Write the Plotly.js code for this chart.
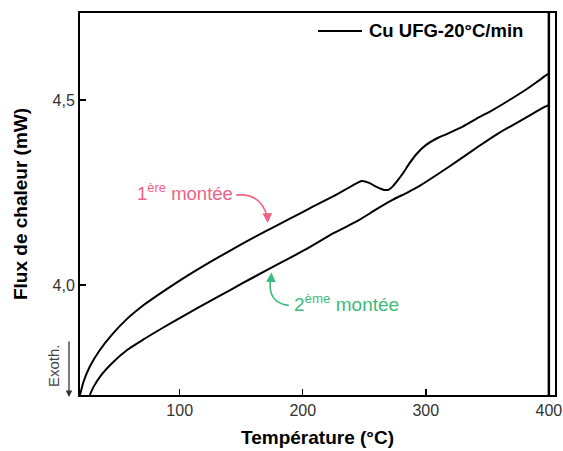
<!DOCTYPE html>
<html>
<head>
<meta charset="utf-8">
<script src="https://cdn.plot.ly/plotly-3.0.1.min.js"></script>
<style>html,body{margin:0;padding:0;background:#fff;}#chart{width:563px;height:451px;}</style>
</head>
<body>
<div id="chart"></div>
<script>
// 1st heating run (1ère montée)
var temp1 = [19, 22, 27, 35, 45, 57, 70, 81, 100, 115, 132, 150, 170, 190, 206, 225, 240, 248, 254, 260, 266, 270, 273, 277, 281, 287, 292.5, 300, 310, 317, 330, 341, 355, 368, 380, 390, 397, 400];
var flux1 = [3.703, 3.74, 3.78, 3.824, 3.866, 3.908, 3.944, 3.970, 4.012, 4.043, 4.076, 4.110, 4.146, 4.180, 4.208, 4.24, 4.268, 4.281, 4.276, 4.265, 4.257, 4.258, 4.266, 4.282, 4.30, 4.33, 4.354, 4.378, 4.398, 4.408, 4.428, 4.449, 4.474, 4.50, 4.525, 4.548, 4.565, 4.572];
// 2nd heating run (2ème montée)
var temp2 = [27, 30, 37, 45, 57, 70, 85, 100, 115, 132, 150, 170, 190, 206, 225, 246, 260, 273, 285, 295, 310, 327, 343, 359, 375, 388, 397, 400];
var flux2 = [3.703, 3.725, 3.760, 3.789, 3.824, 3.852, 3.882, 3.911, 3.939, 3.970, 4.003, 4.039, 4.074, 4.103, 4.14, 4.176, 4.205, 4.23, 4.25, 4.268, 4.30, 4.338, 4.375, 4.41, 4.44, 4.465, 4.482, 4.487];
var xTicks = [100, 200, 300, 400];
var yTicks = [4.0, 4.5];
var seriesName = 'Cu UFG-20°C/min';

var FONT = 'Liberation Sans, Arial, sans-serif';
var pink = '#ef6282';
var green = '#3dbb7a';

var traces = [
  {x: temp1, y: flux1, type: 'scatter', mode: 'lines', name: seriesName,
   line: {color: '#000', width: 2, shape: 'spline', smoothing: 0.6}},
  {x: temp2, y: flux2, type: 'scatter', mode: 'lines', name: seriesName,
   line: {color: '#000', width: 2, shape: 'spline', smoothing: 0.6}}
];

// pixel helpers for paper-positioned legend items
var L = 80, T = 13, W = 475, H = 382;
function px(x) { return (x - L) / W; }
function py(y) { return 1 - (y - T) / H; }

var layout = {
  width: 563, height: 451,
  margin: {l: 80, r: 8, t: 13, b: 56},
  paper_bgcolor: '#fff', plot_bgcolor: '#fff',
  separators: ', ',
  font: {family: FONT, color: '#333'},
  showlegend: false,
  xaxis: {range: [19, 405], tickvals: xTicks, ticks: 'inside', ticklen: 6, tickwidth: 1.5, tickcolor: '#000',
          showline: true, mirror: true, linecolor: '#000', linewidth: 2, showgrid: false, zeroline: false,
          tickfont: {size: 16, color: '#333'},
          title: {text: 'Température (°C)', font: {size: 19, color: '#000', weight: 'bold'}, standoff: 12}},
  yaxis: {range: [3.703, 4.735], tickvals: yTicks, tickformat: '.1f', ticks: 'inside', ticklen: 6, tickwidth: 1.5, tickcolor: '#000',
          showline: true, mirror: true, linecolor: '#000', linewidth: 2, showgrid: false, zeroline: false,
          tickfont: {size: 16, color: '#333'},
          title: {text: 'Flux de chaleur (mW)', font: {size: 19, color: '#000', weight: 'bold'}, standoff: 20}},
  shapes: [
    {type: 'line', xref: 'x', yref: 'paper', x0: 400, x1: 400, y0: 0, y1: 1, line: {color: '#000', width: 2.5}},
    {type: 'line', xref: 'paper', yref: 'paper', x0: px(318), x1: px(362), y0: py(31), y1: py(31), line: {color: '#000', width: 2}},
    {type: 'path', xref: 'x', yref: 'y', path: 'M146,4.243 Q166.7,4.250 171.5,4.180', line: {color: pink, width: 1.6}},
    {type: 'path', xref: 'x', yref: 'y', path: 'M188.6,3.945 Q170.5,3.951 174,4.022', line: {color: green, width: 1.6}}
  ],
  annotations: [
    {xref: 'paper', yref: 'paper', x: px(367), y: py(31), xanchor: 'left', yanchor: 'middle', showarrow: false,
     text: '<b>' + seriesName + '</b>', font: {family: FONT, size: 18.5, color: '#000'}},
    {xref: 'x', yref: 'y', x: 63.4, y: 4.251, xanchor: 'left', yanchor: 'middle', showarrow: false,
     text: '1<sup>ère</sup> montée', font: {family: FONT, size: 18.5, color: pink}},
    {xref: 'x', yref: 'y', x: 191, y: 3.951, xanchor: 'left', yanchor: 'middle', showarrow: false,
     text: '2<sup>ème</sup> montée', font: {family: FONT, size: 19, color: green}},
    {xref: 'x', yref: 'y', x: 171.6, y: 4.168, ax: -0.5, ay: -9, text: '', showarrow: true,
     arrowhead: 2, arrowsize: 1.2, arrowwidth: 1.6, arrowcolor: pink},
    {xref: 'x', yref: 'y', x: 174.6, y: 4.034, ax: -0.5, ay: 9, text: '', showarrow: true,
     arrowhead: 2, arrowsize: 1.2, arrowwidth: 1.6, arrowcolor: green},
    {xref: 'paper', yref: 'paper', x: px(53), y: py(366), xanchor: 'center', yanchor: 'middle', showarrow: false,
     text: 'Exoth.', textangle: -90, font: {family: FONT, size: 15, color: '#444'}},
    {xref: 'paper', yref: 'paper', x: px(69), y: py(397), ax: 0, ay: -57, text: '', showarrow: true,
     arrowhead: 2, arrowsize: 1, arrowwidth: 1.3, arrowcolor: '#333'}
  ]
};

Plotly.newPlot('chart', traces, layout, {displayModeBar: false, staticPlot: true});
</script>
</body>
</html>
